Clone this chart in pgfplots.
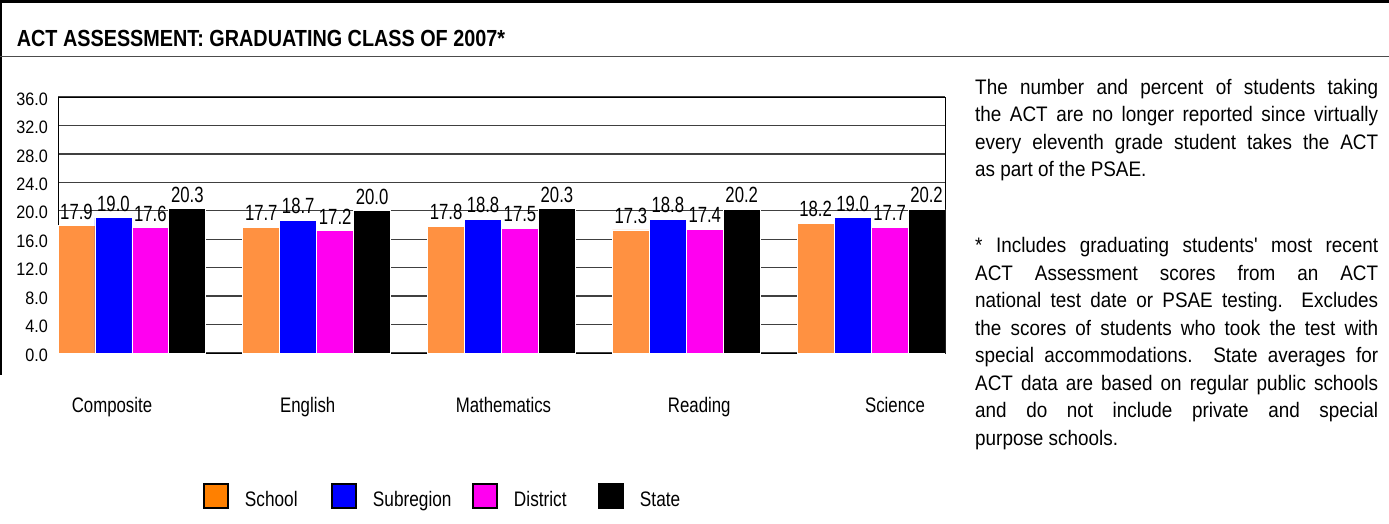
\documentclass[border=0pt]{standalone}
\usepackage{pgfplots}
\pgfplotsset{compat=1.18}
\usepackage{fontspec}
\setmainfont{Liberation Sans}
\newfontfamily\titlefam{Liberation Sans}[FakeStretch=0.85]
\newfontfamily\bodyfam{Liberation Sans}[FakeStretch=0.90, Ligatures=TeXOff]
\newfontfamily\catfam{Liberation Sans}[FakeStretch=0.80]
\newfontfamily\valfam{Liberation Sans}[FakeStretch=0.76]
\newfontfamily\tickfam{Liberation Sans}[FakeStretch=0.90]
\newfontfamily\legfam{Liberation Sans}[FakeStretch=0.82]
\newcommand\titlefont{\titlefam\bfseries\fontsize{23.3bp}{28bp}\selectfont}
\newcommand\bodyfont{\bodyfam\fontsize{21bp}{27.5bp}\selectfont}
\newcommand\catfont{\catfam\fontsize{21bp}{25bp}\selectfont}
\newcommand\valfont{\valfam\fontsize{22bp}{24bp}\selectfont}
\newcommand\tickfont{\tickfam\fontsize{18bp}{20bp}\selectfont}
\newcommand\legfont{\legfam\fontsize{21bp}{25bp}\selectfont}
\definecolor{barorange}{RGB}{255,145,65}
\definecolor{legorange}{RGB}{255,128,0}
\definecolor{barblue}{RGB}{0,0,255}
\definecolor{barmag}{RGB}{255,0,240}
\newcommand\jline[2]{\node[anchor=base west, inner sep=0pt, font=\bodyfont] at (975bp,-#1bp) {\makebox[403bp][s]{#2}};}
\newcommand\lline[2]{\node[anchor=base west, inner sep=0pt, font=\bodyfont] at (975bp,-#1bp) {#2};}
\begin{document}
\begin{tikzpicture}
\useasboundingbox (0bp,0bp) rectangle (1389bp,-524bp);
% frame
\draw[line width=2.5bp] (0bp,-1.25bp) -- (1389bp,-1.25bp);
\draw[line width=1.5bp] (1bp,0bp) -- (1bp,-375bp);
\draw[line width=1.5bp, black!70] (0bp,-56.5bp) -- (1389bp,-56.5bp);
\node[anchor=base west, inner sep=0pt, font=\titlefont] at (16.7bp,-46.7bp) {ACT ASSESSMENT: GRADUATING CLASS OF 2007*};
\begin{axis}[
  at={(58bp,-353bp)}, anchor=south west,
  scale only axis, width=887bp, height=256bp,
  xmin=-2, xmax=22, ymin=0, ymax=36,
  ybar=0pt, bar width=1,
  ytick={0,4,...,36},
  xtick={-0.539,4.757,10.054,15.35,20.647},
  xticklabels={Composite,English,Mathematics,Reading,Science},
  tick style={draw=none},
  ymajorgrids=true,
  grid style={black!75, line width=1.3bp},
  axis line style={black, line width=1bp},
  /pgf/number format/assume math mode=true,
  yticklabel={\pgfmathprintnumber[fixed,fixed zerofill,precision=1,assume math mode=true]{\tick}},
  yticklabel style={font=\tickfont, anchor=east, inner sep=0pt, xshift=-10bp, yshift=-2bp},
  xticklabel style={font=\catfont, anchor=base, inner sep=0pt, yshift=-55.7bp},
  nodes near coords={\pgfmathprintnumber[fixed,fixed zerofill,precision=1,assume math mode=true]{\pgfplotspointmeta}},
  nodes near coords style={font=\valfont, anchor=south, inner sep=0pt, yshift=6bp, text=black},
  legend columns=4,
  legend cell align=left,
  legend style={draw=none, fill=none, at={(axis description cs:0.16347,-0.5586)}, anchor=west, inner sep=0pt, outer sep=0pt, font=\legfont, nodes={inner sep=0pt}, /tikz/every odd column/.append style={column sep=16bp}},
  legend image code/.code={\draw[#1, draw=black, line width=2bp] (1bp,-12bp) rectangle (25bp,12bp);},
]
\addplot[fill=barorange, draw=white, line width=0.8bp, legend image code/.code={\draw[fill=legorange, draw=black, line width=2bp] (1bp,-12bp) rectangle (25bp,12bp);}] coordinates {(0,17.9) (5,17.7) (10,17.8) (15,17.3) (20,18.2)};
\addplot[fill=barblue, draw=white, line width=0.8bp] coordinates {(0,19.0) (5,18.7) (10,18.8) (15,18.8) (20,19.0)};
\addplot[fill=barmag, draw=white, line width=0.8bp] coordinates {(0,17.6) (5,17.2) (10,17.5) (15,17.4) (20,17.7)};
\addplot[fill=black, draw=white, line width=0.8bp] coordinates {(0,20.3) (5,20.0) (10,20.3) (15,20.2) (20,20.2)};
\legend{\raisebox{-8bp}{\makebox[86bp][l]{School}},\raisebox{-8bp}{\makebox[99bp][l]{Subregion}},\raisebox{-8bp}{\makebox[84bp][l]{District}},\raisebox{-8bp}{State}}
\end{axis}
\jline{94}{The number and percent of students taking}
\jline{121.5}{the ACT are no longer reported since virtually}
\jline{149}{every eleventh grade student takes the ACT}
\lline{176.5}{as part of the PSAE.}
\jline{252.5}{* Includes graduating students' most recent}
\jline{280}{ACT Assessment scores from an ACT}
\jline{307.5}{national test date or PSAE testing.\ \ Excludes}
\jline{335}{the scores of students who took the test with}
\jline{362.5}{special accommodations.\ \ State averages for}
\jline{390}{ACT data are based on regular public schools}
\jline{417.5}{and do not include private and special}
\lline{445}{purpose schools.}
\end{tikzpicture}
\end{document}
